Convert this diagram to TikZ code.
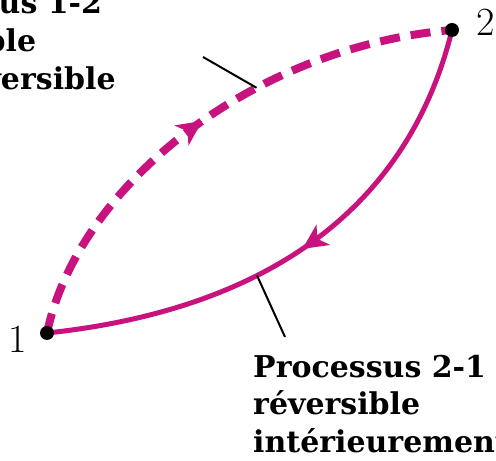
\documentclass[tikz,border=0pt]{standalone}
\usepackage{fontspec}
\newfontfamily\labelfont{DejaVu Serif}
\usetikzlibrary{arrows.meta,decorations.markings}
\definecolor{Magenta}{HTML}{C8137F}
\tikzset{
  statept/.style={circle,fill=black,inner sep=0pt,minimum size=14pt},
  statelbl/.style={font=\fontsize{40}{40}\selectfont,inner sep=0pt},
  proclbl/.style={align=left,inner sep=0pt,anchor=base west,font=\labelfont\bfseries\fontsize{30}{38}\selectfont},
  irr/.style={draw=Magenta,line width=8pt,dash pattern=on 20pt off 11pt},
  intrev/.style={draw=Magenta,line width=5pt},
  midarrow/.style={postaction={decorate},decoration={markings,mark=at position #1 with {\arrow[solid]{Stealth[length=25pt,width=24pt,inset=7pt]}}}},
  lead/.style={draw=black,line width=2pt},
}
\begin{document}
\begin{tikzpicture}[x=1pt,y=1pt]
  \useasboundingbox (0,0) rectangle (496,461);
  \clip (0,0) rectangle (496,461);
  \coordinate (p1) at (47,128);
  \coordinate (p2) at (452,431);
  \coordinate (irrtail) at (203,404);
  \coordinate (revtail) at (285,124);

  \draw[irr,midarrow=0.5] (p1) .. controls (78,275) and (252,414) .. (p2) coordinate[pos=0.65] (hitirr);
  \draw[intrev,midarrow=0.5] (p2) .. controls (404,237) and (246,149) .. (p1) coordinate[pos=0.61] (hitrev);
  \draw[lead] (irrtail) -- (hitirr);
  \draw[lead] (hitrev) -- (revtail);

  \node[statept] (dot1) at (p1) {};
  \node[statept] (dot2) at (p2) {};
  \node[statelbl] (lbl1) at (18,122) {1};
  \node[statelbl] (lbl2) at (486,439) {2};
  \node[proclbl] (irrtxt) at (-131,371) {Processus 1-2\\réversible\\ou irréversible};
  \node[proclbl] (revtxt) at (253,8) {Processus 2-1\\réversible\\intérieurement};
\end{tikzpicture}
\end{document}
